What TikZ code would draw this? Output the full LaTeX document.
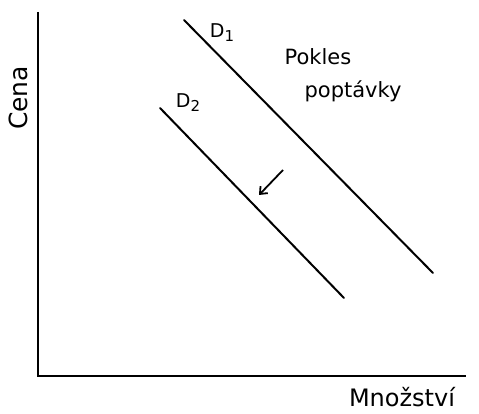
\documentclass[tikz,border=0pt]{standalone}
\usepackage{fontspec}
\setmainfont{DejaVu Sans}
\usetikzlibrary{arrows.meta}
\newcommand{\sbs}[1]{\raisebox{-4pt}{\fontsize{15}{16}\selectfont #1}}
\begin{document}
\begin{tikzpicture}[x=1pt,y=-1pt,
  axis/.style={line width=1.8pt,black},
  curve/.style={line width=2pt,black,line cap=round},
  lbl/.style={font=\fontsize{21}{24}\selectfont,inner sep=1pt}]
\useasboundingbox[fill=white] (0,0) rectangle (479,414);
\coordinate (ytop) at (38,12);
\coordinate (orig) at (38,376);
\coordinate (xend) at (466,376);
\draw[axis] (ytop) -- (orig) -- (xend);
\coordinate (d1a) at (184,20);
\coordinate (d1b) at (433,273);
\coordinate (d2a) at (160,108);
\coordinate (d2b) at (344,298);
\draw[curve] (d1a) -- (d1b);
\draw[curve] (d2a) -- (d2b);
\coordinate (ar1) at (283,170);
\coordinate (ar2) at (259,195);
\draw[line width=1.8pt,-{Straight Barb[length=6pt,width=10pt]}] (ar1) -- (ar2);
\node[lbl,font=\fontsize{19}{22}\selectfont] (D1) at (222,33) {D\sbs{1}};
\node[lbl,font=\fontsize{19}{22}\selectfont] (D2) at (188,103) {D\sbs{2}};
\node[lbl] (pokles) at (318,57) {Pokles};
\node[lbl] (poptavky) at (353,91) {poptávky};
\node[lbl,font=\fontsize{25}{28}\selectfont,rotate=90] (cena) at (18,98) {Cena};
\node[lbl,font=\fontsize{24}{26}\selectfont] (mnoz) at (402,397) {Množství};
\end{tikzpicture}
\end{document}
